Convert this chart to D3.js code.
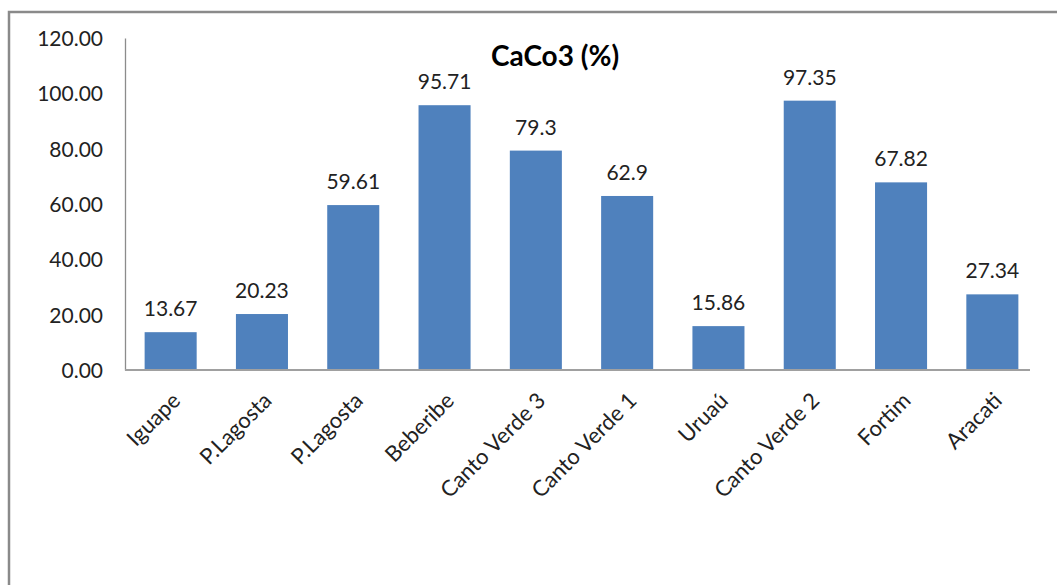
<!DOCTYPE html>
<html><head><meta charset="utf-8">
<script src="https://cdn.jsdelivr.net/npm/d3@7"></script>
<style>body{margin:0;background:#fff}svg{display:block}text{font-family:Lato,"Open Sans",sans-serif}</style>
</head><body>
<script>
const categories = ["Iguape","P.Lagosta","P.Lagosta","Beberibe","Canto Verde 3","Canto Verde 1","Uruaú","Canto Verde 2","Fortim","Aracati"];
const values = [13.67,20.23,59.61,95.71,79.3,62.9,15.86,97.35,67.82,27.34];
const valueLabels = ["13.67","20.23","59.61","95.71","79.3","62.9","15.86","97.35","67.82","27.34"];
const yTicks = [0,20,40,60,80,100,120];
const title = "CaCo3 (%)";

const W=1057,H=585;
const svg=d3.select("body").append("svg").attr("width",W).attr("height",H);
// frame
svg.append("path").attr("d","M9,585 V12 H1057").attr("fill","none").attr("stroke","#8a8a8a").attr("stroke-width",2.5);

const x=d3.scaleBand().domain(d3.range(categories.length)).range([125,1038]).paddingInner(0.43).paddingOuter(0.215);
const y=d3.scaleLinear().domain([0,120]).range([370,38]);

svg.selectAll("rect.bar").data(values).join("rect").attr("class","bar")
 .attr("x",(d,i)=>x(i)).attr("width",x.bandwidth())
 .attr("y",d=>y(d)).attr("height",d=>y(0)-y(d)).attr("fill","#4F81BD");

// y axis
const ya=svg.append("g").attr("transform","translate(125,0)")
 .call(d3.axisLeft(y).tickValues(yTicks).tickFormat(d=>d.toFixed(2)).tickSize(0).tickPadding(22));
ya.select(".domain").attr("stroke","#8c8c8c").attr("stroke-width",1.3);
ya.selectAll("text").attr("font-size",21).attr("fill","#222").attr("dy","0.35em");

// x axis
const xa=svg.append("g").attr("transform","translate(0,370)")
 .call(d3.axisBottom(x).tickFormat(i=>categories[i]).tickSize(0).tickPadding(0));
xa.select(".domain").attr("stroke","#a0a0a0").attr("stroke-width",1.8).attr("d","M125,0H1030");
xa.selectAll("text").attr("font-size",22).attr("fill","#222")
 .attr("text-anchor","end").attr("dy",0).attr("y",0)
 .attr("transform","translate(11,32) rotate(-45)");

// value labels
svg.selectAll("text.val").data(values).join("text").attr("class","val")
 .attr("x",(d,i)=>x(i)+x.bandwidth()/2).attr("y",d=>y(d)-16)
 .attr("text-anchor","middle").attr("font-size",21).attr("fill","#222")
 .text((d,i)=>valueLabels[i]);

svg.append("text").attr("x",555).attr("y",66).attr("text-anchor","middle")
 .attr("font-size",28).attr("font-weight","bold").attr("fill","#000").text(title);
</script>
</body></html>
